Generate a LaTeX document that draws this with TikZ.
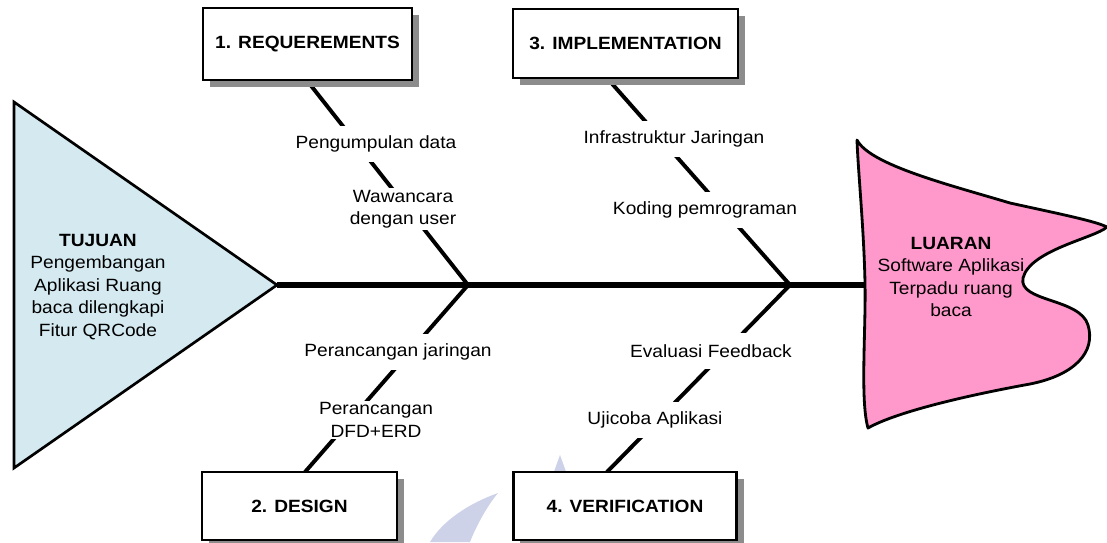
\documentclass[tikz,border=0pt]{standalone}
\usepackage{fontspec}
\setmainfont{Liberation Sans}[FakeStretch=1.08]
\usetikzlibrary{shadows}
\newcommand{\spinew}{3.6pt}
\newcommand{\bonew}{2.8pt}
\newcommand{\lblsize}{\fontsize{12.6}{16}\selectfont}
\definecolor{tailblue}{RGB}{212,234,240}
\definecolor{headpink}{RGB}{255,153,204}
\definecolor{wmark}{RGB}{205,210,232}

\begin{document}
\begin{tikzpicture}[x=0.025cm, y=-0.025cm,
        stagebox/.style={draw, line width=2pt, fill=white, inner sep=0pt,
            font=\lblsize\bfseries,
            drop shadow={shadow xshift=5pt, shadow yshift=-5pt, fill=black!45, opacity=1}},
        cause/.style={fill=white, inner xsep=1pt, inner ysep=1pt,
            minimum height=26pt, align=center, font=\lblsize},
        bone/.style={line width=\bonew}]
    \useasboundingbox (0,0) rectangle (1107,542);
    %\draw[help lines, step=50] (0,0) grid (1107,542);
    % faint watermark behind everything
    \fill[wmark] (560,455) -- (569,480) -- (551,480) -- cycle;
    \fill[wmark] (498,493) .. controls (470,503) and (443,520) .. (430,542)
        -- (470,542) .. controls (477,524) and (488,505) .. cycle;
    % tail
    \coordinate (tail) at (277,285);
    \coordinate (head) at (865,285);
    \filldraw[fill=tailblue, line width=1.9pt, line join=miter]
        (14,102) -- (tail) -- (14,468) -- cycle;
    \node[align=center, font=\lblsize] (goal) at (98,287)
        {\textbf{TUJUAN}\\Pengembangan\\Aplikasi Ruang\\baca dilengkapi\\Fitur QRCode};
    % spine
    \draw[line width=\spinew] (tail) -- (head);
    % head
    \filldraw[fill=headpink, line width=2pt, line join=round]
        (857,140) .. controls (870,165) and (950,185) .. (1010,203)
        .. controls (1060,214) and (1095,221) .. (1107,227)
        .. controls (1095,238) and (1030,250) .. (1023,278)
        .. controls (1018,302) and (1080,298) .. (1088,325)
        .. controls (1096,352) and (1075,375) .. (1030,384)
        .. controls (980,393) and (900,410) .. (868,428)
        .. controls (860,400) and (866,330) .. (865,283)
        .. controls (864,230) and (858,170) .. (857,140) -- cycle;
    \node[align=center, font=\lblsize] (out) at (951,277)
        {\textbf{LUARAN}\\Software Aplikasi\\Terpadu ruang\\baca};
    % bones
    \coordinate (j1) at (468,285);
    \coordinate (j2) at (790,285);
    \coordinate (e1) at (305,78);
    \coordinate (e3) at (607,78);
    \coordinate (e2) at (305,472);
    \coordinate (e4) at (607,472);
    \foreach \b/\j in {1/1, 2/1, 3/2, 4/2} {
        \draw[bone] (e\b) -- (j\j);
    }
    % causes
    \foreach \n/\x/\y/\t in {11/376/144/{Pengumpulan data},
                             12/403/209/{Wawancara\\dengan user},
                             31/674/139/{Infrastruktur Jaringan},
                             32/705/210/{Koding pemrograman},
                             21/398/352/{Perancangan jaringan},
                             22/376/420/{Perancangan\\DFD+ERD},
                             41/711/351/{Evaluasi Feedback},
                             42/655/420/{Ujicoba Aplikasi}} {
        \node[cause] (c\n) at (\x,\y) {\t};
    }
    % stage boxes
    \foreach \n/\x/\y/\w/\h/\t in {1/307.5/44/148.7/51.2/{1. REQUEREMENTS},
                                   3/625.5/43.5/160/49/{3. IMPLEMENTATION},
                                   2/299.5/506/138.7/48.4/{2. DESIGN},
                                   4/625/506/159/48.4/{4. VERIFICATION}} {
        \node[stagebox, minimum width=\w pt, minimum height=\h pt] (b\n) at (\x,\y) {\t};
    }
\end{tikzpicture}
\end{document}
